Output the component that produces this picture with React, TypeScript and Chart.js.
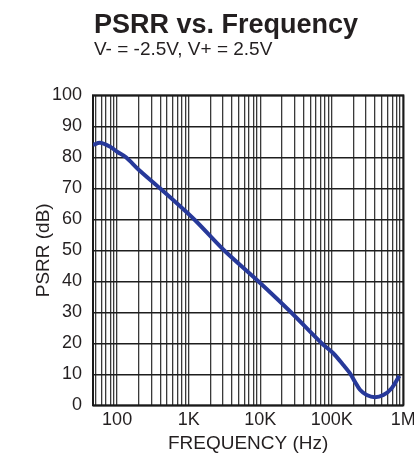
import React, { useEffect, useRef } from "react";
import { Chart, registerables } from "chart.js";

Chart.register(...registerables);

const TITLE = "PSRR vs. Frequency";
const SUBTITLE = "V- = -2.5V, V+ = 2.5V";
const X_TITLE = "FREQUENCY (Hz)";
const Y_TITLE = "PSRR (dB)";

// Frequency (Hz) and PSRR (dB)
const freqHz = [46, 58, 80, 100, 133, 200, 397, 1190, 3120, 9400, 26900, 72300, 105000, 145000, 180000, 211000, 248000, 308000, 402000, 525000, 688000, 880000];
const psrrDb = [84, 84.7, 83.4, 81.8, 80, 76, 70, 60, 50, 40, 30, 20, 16.8, 13, 10.3, 7.6, 5, 3.3, 2.6, 3.3, 5.5, 9.5];

const xMin = 46;
const xMax = 1000000;
const xGridValues = [
  50, 60, 70, 80, 90,
  100, 200, 300, 400, 500, 600, 700, 800, 900,
  1000, 2000, 3000, 4000, 5000, 6000, 7000, 8000, 9000,
  10000, 20000, 30000, 40000, 50000, 60000, 70000, 80000, 90000,
  100000, 200000, 300000, 400000, 500000, 600000, 700000, 800000, 900000,
  1000000,
];
const xLabelValues = [100, 1000, 10000, 100000, 1000000];
const xLabelTexts = ["100", "1K", "10K", "100K", "1M"];

const yMin = 0;
const yMax = 100;
const yStep = 10;

const FONT = "'Liberation Sans', Arial, sans-serif";
const TEXT = "#231f20";

export default function App() {
  const ref = useRef<HTMLCanvasElement | null>(null);

  useEffect(() => {
    if (!ref.current) return;
    const titlePlugin = {
      id: "titleBlock",
      afterDraw(chart: any) {
        const { ctx, chartArea } = chart;
        ctx.save();
        ctx.fillStyle = TEXT;
        ctx.textAlign = "left";
        ctx.textBaseline = "alphabetic";
        ctx.font = `bold 27px ${FONT}`;
        ctx.fillText(TITLE, chartArea.left + 1, 33);
        ctx.font = `19px ${FONT}`;
        ctx.fillText(SUBTITLE, chartArea.left + 1, 55);
        ctx.restore();
      },
    };
    const borderPlugin = {
      id: "plotBorder",
      beforeDatasetsDraw(chart: any) {
        const { ctx, chartArea } = chart;
        ctx.save();
        ctx.strokeStyle = "#1a1a1a";
        ctx.lineWidth = 2;
        ctx.strokeRect(chartArea.left, chartArea.top, chartArea.right - chartArea.left, chartArea.bottom - chartArea.top);
        ctx.restore();
      },
    };

    const chart = new Chart(ref.current, {
      type: "line",
      data: {
        datasets: [
          {
            data: freqHz.map((f, i) => ({ x: f, y: psrrDb[i] })),
            borderColor: "#27399a",
            borderWidth: 4,
            pointRadius: 0,
            tension: 0.3,
            fill: false,
          },
        ],
      },
      options: {
        animation: false,
        responsive: false,
        devicePixelRatio: 1,
        layout: { padding: { top: 95.3, right: 10.7, bottom: 0, left: 0 } },
        plugins: { legend: { display: false }, tooltip: { enabled: false }, title: { display: false } },
        scales: {
          x: {
            type: "logarithmic",
            min: xMin,
            max: xMax,
            afterBuildTicks: (scale: any) => {
              scale.ticks = xGridValues.map((v) => ({ value: v }));
            },
            afterFit: (scale: any) => {
              scale.height = 464 - 405.3;
              scale.paddingLeft = 0;
              scale.paddingRight = 0;
            },
            ticks: {
              autoSkip: false,
              maxRotation: 0,
              minRotation: 0,
              padding: 4,
              color: TEXT,
              font: { family: FONT, size: 18 },
              callback: (value: any) => {
                const idx = xLabelValues.indexOf(Number(value));
                return idx >= 0 ? xLabelTexts[idx] : "";
              },
            },
            grid: { color: "#3a3a3a", lineWidth: 1.3, drawTicks: false },
            border: { display: false },
            title: {
              display: true,
              text: X_TITLE,
              color: TEXT,
              font: { family: FONT, size: 19 },
              padding: { top: 0, bottom: 9 },
            },
          },
          y: {
            type: "linear",
            min: yMin,
            max: yMax,
            afterFit: (scale: any) => {
              scale.width = 93;
            },
            ticks: {
              stepSize: yStep,
              padding: 11,
              color: TEXT,
              font: { family: FONT, size: 18 },
            },
            grid: { color: "#1e1e1e", lineWidth: 1.5, drawTicks: false },
            border: { display: false },
            title: {
              display: true,
              text: Y_TITLE,
              color: TEXT,
              font: { family: FONT, size: 19 },
              padding: { top: 32, bottom: 0 },
            },
          },
        },
      },
      plugins: [borderPlugin, titlePlugin],
    } as any);
    return () => chart.destroy();
  }, []);

  return (
    <div style={{ position: "fixed", left: 0, top: 0, width: 414, height: 464, background: "#fff" }}>
      <canvas ref={ref} width={414} height={464} style={{ display: "block", width: 414, height: 464 }} />
    </div>
  );
}
